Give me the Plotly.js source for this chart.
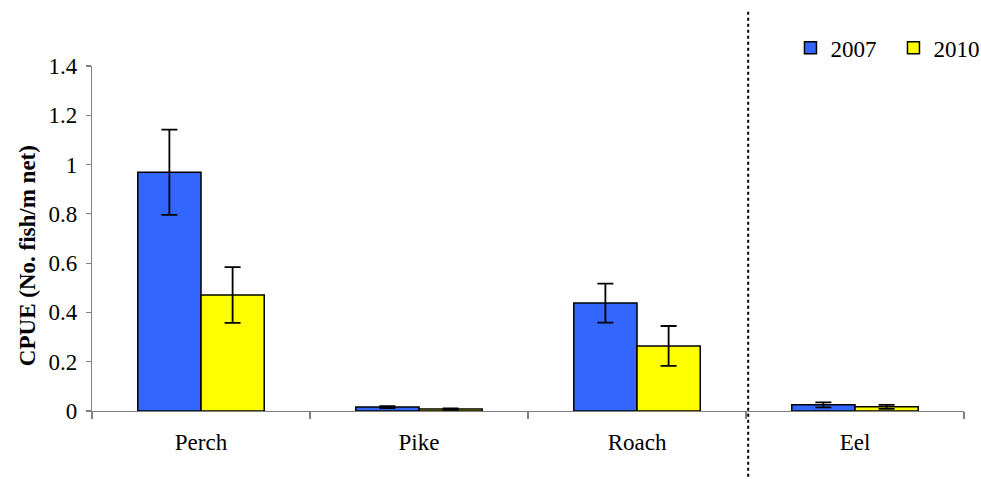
<!DOCTYPE html>
<html>
<head>
<meta charset="utf-8">
<script src="https://cdn.plot.ly/plotly-3.0.1.min.js"></script>
<style>html,body{margin:0;padding:0;background:#fff;}#chart{width:981px;height:479px;}</style>
</head>
<body>
<div id="chart"></div>
<script>
var categories = ["Perch", "Pike", "Roach", "Eel"];
var values2007 = [0.969, 0.016, 0.438, 0.025];
var errors2007 = [0.173, 0.004, 0.079, 0.010];
var values2010 = [0.471, 0.008, 0.264, 0.017];
var errors2010 = [0.113, 0.003, 0.081, 0.008];
var seriesNames = ["2007", "2010"];
var yTitle = "CPUE (No. fish/m net)";

function mkFont(size) {
  return {family: "Liberation Serif, Times New Roman, serif", size: size, color: "#000"};
}

var traces = [
  {type: "bar", name: seriesNames[0], x: categories, y: values2007,
   marker: {color: "#3366FF", line: {color: "#000", width: 1.5}},
   error_y: {type: "data", array: errors2007, visible: true, color: "#000", thickness: 1.8, width: 8}},
  {type: "bar", name: seriesNames[1], x: categories, y: values2010,
   marker: {color: "#FFFF00", line: {color: "#000", width: 1.5}},
   error_y: {type: "data", array: errors2010, visible: true, color: "#000", thickness: 1.8, width: 8}}
];

var layout = {
  width: 981, height: 479,
  margin: {l: 92, r: 17, t: 66, b: 68, autoexpand: false},
  paper_bgcolor: "#fff", plot_bgcolor: "#fff",
  font: mkFont(23),
  barmode: "group",
  bargap: 0.42, bargroupgap: 0,
  showlegend: true,
  legend: {orientation: "h", xref: "paper", x: 0.801, yref: "container", y: 0.9, xanchor: "left", yanchor: "middle",
           font: mkFont(23), bgcolor: "rgba(0,0,0,0)", entrywidth: 58, entrywidthmode: "pixels",
           traceorder: "normal"},
  xaxis: {type: "category", range: [-0.5, 3.5], showline: true, linecolor: "#808080", linewidth: 1.2,
          ticks: "outside", tickson: "boundaries", ticklen: 7, tickcolor: "#808080", tickwidth: 1.2,
          ticklabelstandoff: 10,
          showgrid: false, zeroline: false, tickfont: mkFont(23), automargin: false},
  yaxis: {range: [0, 1.4], dtick: 0.2, showline: true, linecolor: "#808080", linewidth: 1.2,
          ticks: "outside", ticklen: 5, tickcolor: "#808080", tickwidth: 1.2,
          ticklabelstandoff: 4,
          showgrid: false, zeroline: false, tickfont: mkFont(23), automargin: false},
  annotations: [
    {text: "<b>" + yTitle + "</b>", xref: "paper", yref: "paper", x: -0.0745, y: 0.449,
     xanchor: "center", yanchor: "middle", textangle: -90, showarrow: false, font: mkFont(23)}
  ],
  shapes: [
    {type: "line", xref: "paper", yref: "paper", x0: 0.7525, x1: 0.7525, y0: 1.157, y1: -0.25,
     line: {color: "#000", width: 2, dash: "dot"}}
  ]
};

Plotly.newPlot("chart", traces, layout, {displayModeBar: false, staticPlot: true});
</script>
</body>
</html>
